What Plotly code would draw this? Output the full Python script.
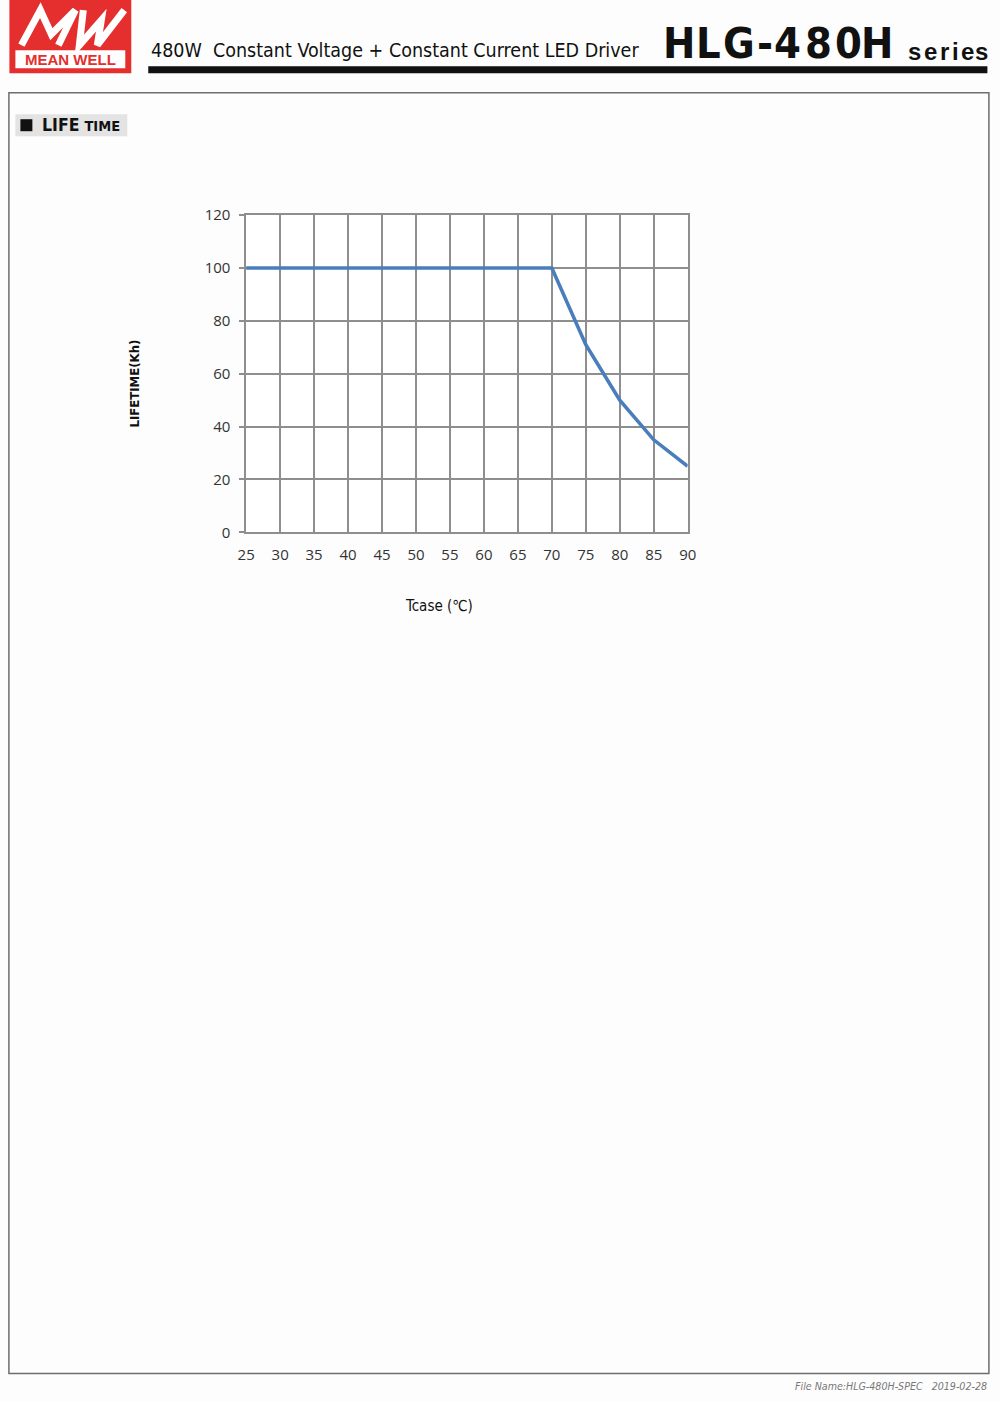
import plotly.graph_objects as go

# ---- data ----
tcase = [25, 30, 35, 40, 45, 50, 55, 60, 65, 70, 75, 80, 85, 90]
lifetime_kh = [100, 100, 100, 100, 100, 100, 100, 100, 100, 100, 71, 50, 35, 25]
x_ticks = [25, 30, 35, 40, 45, 50, 55, 60, 65, 70, 75, 80, 85, 90]
y_ticks = [0, 20, 40, 60, 80, 100, 120]

W, H = 1000, 1402
# the page is photographed with a small margin/scale; map target pixels to figure pixels
SX, CX = 0.983, 8.6
SY, CY = 0.9856, 10.8
def px(x):
    return ((x - CX) / SX) / W
def py(y):
    return 1 - ((y - CY) / SY) / H

NARROW = "DejaVu Sans Condensed, Liberation Sans Narrow, Liberation Sans, Arial"
GRID = "#8e8e8e"
fig = go.Figure()
fig.add_trace(go.Scatter(x=tcase, y=lifetime_kh, mode="lines",
                         line=dict(color="#4a7ebb", width=3.6), hoverinfo="x+y"))

fig.update_layout(
    width=W, height=H, margin=dict(l=0, r=0, t=0, b=0),
    paper_bgcolor="#fdfdfd", plot_bgcolor="white", showlegend=False,
    xaxis=dict(domain=[px(246), px(688)], range=[25, 90], tickvals=x_ticks,
               showgrid=True, gridcolor=GRID, gridwidth=1.5,
               showline=True, linecolor=GRID, linewidth=1.5, mirror=True,
               zeroline=False, ticks="", ticklabelstandoff=8,
               tickfont=dict(family="Open Sans, Lato, sans-serif", size=15, color="#333")),
    yaxis=dict(domain=[py(532), py(215)], range=[0, 120], tickvals=y_ticks,
               showgrid=True, gridcolor=GRID, gridwidth=1.5,
               showline=True, linecolor=GRID, linewidth=1.5, mirror=True,
               zeroline=False, ticks="outside", ticklen=5, tickcolor=GRID, tickwidth=1.5,
               ticklabelstandoff=6,
               tickfont=dict(family="Open Sans, Lato, sans-serif", size=15, color="#333")),
)

shapes = []
ann = []
# page frame
shapes.append(dict(type="rect", xref="paper", yref="paper", x0=px(8.5), x1=px(989.5),
                   y0=py(1373), y1=py(92.5), line=dict(color="#6e6e6e", width=1.5)))
# logo
shapes.append(dict(type="rect", xref="paper", yref="paper", x0=px(9), x1=px(131),
                   y0=py(73), y1=py(-5), fillcolor="#e52e2e", line=dict(width=0)))
shapes.append(dict(type="rect", xref="paper", yref="paper", x0=px(15), x1=px(125),
                   y0=py(68), y1=py(50), fillcolor="white", line=dict(width=0)))
def path(pts):
    return "M " + " L ".join("%f,%f" % (px(a), py(b)) for a, b in pts)
shapes.append(dict(type="path", xref="paper", yref="paper",
                   path=path([(21, 45), (40, 10), (51, 34), (75, 10), (58, 45)]),
                   line=dict(color="white", width=7)))
shapes.append(dict(type="path", xref="paper", yref="paper",
                   path=path([(83, 10), (79, 45), (101, 20), (97, 45), (124, 10)]),
                   line=dict(color="white", width=7)))
ann.append(dict(x=px(70), y=py(59), xref="paper", yref="paper", text="<b>MEAN WELL</b>",
                showarrow=False, xanchor="center", yanchor="middle",
                font=dict(family="Liberation Sans, Arial", size=15, color="#e52e2e")))
# header
ann.append(dict(x=px(149), y=py(50), xref="paper", yref="paper",
                text="480W  Constant Voltage + Constant Current LED Driver",
                showarrow=False, xanchor="left", yanchor="middle",
                font=dict(family=NARROW, size=19.5, color="#111")))
for ch, cx in zip("HLG-480H", [679, 709, 739, 765, 788, 819, 849, 877]):
    ann.append(dict(x=px(cx), y=py(43), xref="paper", yref="paper", text="<b>%s</b>" % ch,
                    showarrow=False, xanchor="center", yanchor="middle",
                    font=dict(family=NARROW, size=43, color="#111")))
for ch, cx in zip("series", [915, 931, 945, 956, 968, 982]):
    ann.append(dict(x=px(cx), y=py(51), xref="paper", yref="paper", text="<b>%s</b>" % ch,
                    showarrow=False, xanchor="center", yanchor="middle",
                    font=dict(family="Liberation Sans, Arial", size=24, color="#111")))
shapes.append(dict(type="rect", xref="paper", yref="paper", x0=px(148), x1=px(988),
                   y0=py(73), y1=py(66), fillcolor="#111", line=dict(width=0)))
# section label
shapes.append(dict(type="rect", xref="paper", yref="paper", x0=px(15), x1=px(127),
                   y0=py(136), y1=py(114), fillcolor="#e3e3e3", line=dict(width=0)))
shapes.append(dict(type="rect", xref="paper", yref="paper", x0=px(20), x1=px(32),
                   y0=py(131), y1=py(119), fillcolor="#111", line=dict(width=0)))
ann.append(dict(x=px(40), y=py(125), xref="paper", yref="paper",
                text="<b>LIFE</b> <b><span style='font-size:14.5px'>TIME</span></b>",
                showarrow=False, xanchor="left", yanchor="middle",
                font=dict(family=NARROW, size=17.5, color="#111")))
# axis titles
ann.append(dict(x=px(134), y=py(383), xref="paper", yref="paper", text="<b>LIFETIME(Kh)</b>",
                textangle=-90, showarrow=False, xanchor="center", yanchor="middle",
                font=dict(family=NARROW, size=13, color="#111")))
ann.append(dict(x=px(439), y=py(606), xref="paper", yref="paper", text="Tcase (℃)",
                showarrow=False, xanchor="center", yanchor="middle",
                font=dict(family=NARROW, size=15, color="#111")))
# footer
ann.append(dict(x=px(990), y=py(1386), xref="paper", yref="paper",
                text="<i>File Name:HLG-480H-SPEC   2019-02-28</i>",
                showarrow=False, xanchor="right", yanchor="middle",
                font=dict(family=NARROW, size=10.6, color="#777")))

fig.update_layout(shapes=shapes, annotations=ann)
fig.write_html("out.html")
